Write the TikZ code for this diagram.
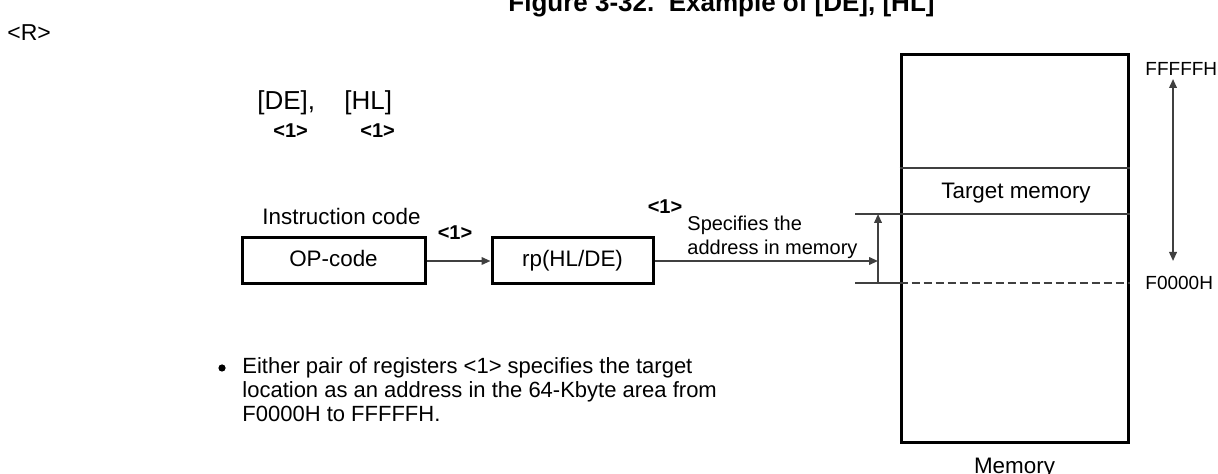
\documentclass[tikz,border=0pt]{standalone}
\usepackage{fontspec}
\setmainfont{Liberation Sans}
\usetikzlibrary{arrows.meta,positioning,calc}

\begin{document}
\begin{tikzpicture}[
  x=0.5pt, y=-0.5pt,
  txt/.style={inner sep=0pt, font=\fontsize{11.2}{13.4}\selectfont},
  big/.style={inner sep=0pt, font=\fontsize{13}{15}\selectfont},
  tag/.style={inner sep=0pt, font=\bfseries\fontsize{10}{12}\selectfont},
  addr/.style={inner sep=0pt, font=\fontsize{9.5}{11}\selectfont},
  reg/.style={draw, line width=1.5pt, inner sep=0pt, minimum height=23pt,
    text height=0.75em, text depth=0.2em, font=\fontsize{11.2}{13.4}\selectfont},
  rule/.style={draw=black!75, line width=0.9pt},
  >={Triangle[length=4.5pt, width=3.8pt]},
]
\useasboundingbox (0,0) rectangle (1218,474);

\node[anchor=base west, inner sep=0pt, font=\bfseries\fontsize{13}{15}\selectfont] (title) at (508,12) {Figure 3-32.\ \ Example of [DE], [HL]};
\node[txt, anchor=base west, font=\fontsize{11.5}{13}\selectfont] (rmark) at (7,41) {<R>};

\node[big, anchor=base west] (de) at (257,110) {[DE],};
\node[big, anchor=base west] (hl) at (344,110) {[HL]};
\node[tag, anchor=base west] (dei) at (273,138) {<1>};
\node[tag, anchor=base west] (hli) at (360,138) {<1>};

\node[reg, minimum width=91.5pt] (op) at (333.5,261) {OP-code};
\node[reg, minimum width=80.5pt] (rp) at (572.5,261) {rp(HL/DE)};
\node[txt, anchor=base west] (instr) at (262,225) {Instruction code};
\node[tag, anchor=base] (opi) at (455,240) {<1>};
\draw[rule, ->] (op) -- (rp);

\node[draw, line width=1.5pt, minimum width=113.5pt, minimum height=194pt, inner sep=0pt] (mem) at (1014.5,249) {};
\node[txt, below=6.5pt of mem] (memlbl) {Memory};
\draw[rule] (mem.west |- 0,168) -- (mem.east |- 0,168);
\node[txt, anchor=base] (tgt) at (1016,199) {Target memory};

\coordinate (btop) at (855,214);
\coordinate (bbot) at (855,283);
\draw[rule] (btop) -- (btop -| mem.east);
\draw[rule] (bbot) -- (bbot -| mem.west);
\draw[rule, dash pattern=on 4pt off 2pt] (bbot -| mem.west) -- (bbot -| mem.east);
\coordinate (up) at (878,283);
\coordinate (uptop) at (878,214);
\draw[rule, ->] (up) -- (uptop);
\coordinate (hit) at (878,261);
\draw[rule, ->] (rp) -- (hit);
\node[tag, anchor=base] (rpi) at (665,214) {<1>};
\node[inner sep=0pt, font=\fontsize{10}{12}\selectfont, align=left, anchor=north west] (spec) at (687,216) {Specifies the\\address in memory};

\node[addr, anchor=base west] (hi) at (1145,76) {FFFFFH};
\node[addr, anchor=base west] (lo) at (1145,290) {F0000H};
\coordinate (hitop) at (1173,79);
\coordinate (lobot) at (1173,261);
\draw[rule, <->] (lobot) -- (hitop);

\node[circle, fill, inner sep=0pt, minimum size=3.6pt] (dot) at (222,368) {};
\node[txt, align=left, anchor=north west, font=\fontsize{11}{12}\selectfont] (note) at (242,357)
  {Either pair of registers <1> specifies the target\\
   location as an address in the 64-Kbyte area from\\
   F0000H to FFFFFH.};
\end{tikzpicture}
\end{document}
